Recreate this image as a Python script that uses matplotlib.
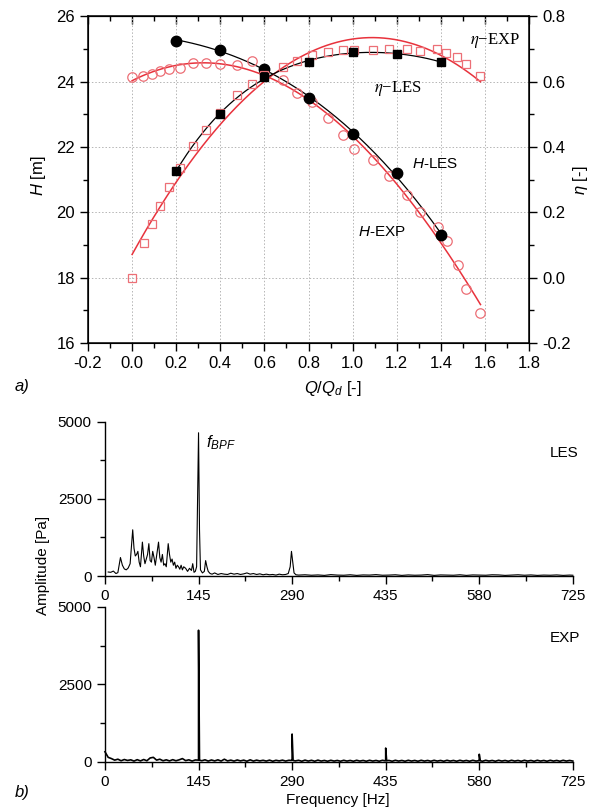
import numpy as np
import matplotlib
matplotlib.use('Agg')
import matplotlib.pyplot as plt
from matplotlib.ticker import MultipleLocator

plt.rcParams['font.family'] = ['Liberation Sans', 'DejaVu Sans']
plt.rcParams['mathtext.fontset'] = 'custom'
plt.rcParams['mathtext.rm'] = 'Liberation Sans'
plt.rcParams['mathtext.it'] = 'Liberation Sans:italic'
plt.rcParams['mathtext.bf'] = 'Liberation Sans:bold'

# ---------------- data: panel a) ----------------
q_les = [0.2, 0.4, 0.6, 0.8, 1.0, 1.2, 1.4]
h_les = [25.25, 24.98, 24.37, 23.51, 22.41, 21.19, 19.32]
eta_les = [0.327, 0.502, 0.613, 0.659, 0.691, 0.684, 0.660]

q_h_exp = [0.0, 0.051, 0.089, 0.127, 0.169, 0.218, 0.278, 0.334, 0.399, 0.475,
           0.546, 0.60, 0.686, 0.747, 0.815, 0.89, 0.958, 1.007, 1.094, 1.166,
           1.246, 1.306, 1.386, 1.427, 1.48, 1.515, 1.578]
h_exp = [24.14, 24.16, 24.24, 24.32, 24.39, 24.42, 24.56, 24.56, 24.54, 24.51,
         24.62, 24.30, 24.04, 23.64, 23.38, 22.87, 22.36, 21.95, 21.60, 21.11,
         20.53, 20.02, 19.56, 19.12, 18.39, 17.65, 16.93]

q_eta_exp = [0.0, 0.054, 0.091, 0.127, 0.169, 0.218, 0.278, 0.334, 0.399, 0.475,
             0.546, 0.60, 0.686, 0.747, 0.815, 0.89, 0.958, 1.007, 1.094, 1.166,
             1.246, 1.306, 1.382, 1.424, 1.473, 1.515, 1.578]
eta_exp = [0.0, 0.105, 0.163, 0.219, 0.278, 0.334, 0.402, 0.453, 0.505, 0.558,
           0.592, 0.620, 0.645, 0.663, 0.681, 0.691, 0.696, 0.696, 0.698, 0.701,
           0.701, 0.694, 0.701, 0.686, 0.674, 0.653, 0.617]

# ---------------- data: panel b) ----------------
les_freq = [5, 9, 13, 17, 20, 24, 27, 30, 33, 36,
            39, 43, 45, 47, 49, 51, 53, 55, 58, 60,
            62, 64, 66, 68, 70, 72, 74, 76, 78, 80,
            83, 85, 87, 89, 91, 93, 95, 98, 100, 102,
            104, 106, 108, 110, 112, 114, 116, 118, 120, 122,
            125, 128, 131, 134, 136, 138, 140, 142, 143.5, 145,
            146.5, 148, 151, 154, 156, 158, 160, 163, 166, 170,
            175, 180, 185, 190, 195, 200, 205, 210, 215, 220,
            225, 230, 235, 240, 245, 250, 255, 260, 265, 270,
            275, 280, 284, 287, 289, 291, 293, 296, 300, 310,
            320, 330, 340, 350, 360, 370, 380, 390, 400, 410,
            420, 430, 440, 450, 460, 470, 480, 490, 500, 510,
            520, 530, 540, 550, 560, 570, 580, 590, 600, 610,
            620, 630, 640, 650, 660, 670, 680, 690, 700, 710,
            720, 725]
les_amp = [130, 120, 160, 80, 110, 600, 350, 230, 200, 260,
           400, 1500, 900, 650, 700, 800, 450, 300, 1100, 650,
           400, 550, 700, 1050, 500, 450, 800, 600, 350, 650,
           1100, 600, 450, 700, 350, 400, 300, 1050, 700, 450,
           550, 350, 450, 250, 350, 300, 220, 350, 200, 300,
           250, 150, 250, 180, 400, 120, 150, 300, 2500, 4650,
           1500, 200, 100, 150, 500, 300, 150, 80, 60, 100,
           50, 80, 60, 50, 90, 60, 80, 50, 70, 100,
           60, 80, 50, 70, 40, 60, 40, 50, 30, 60,
           40, 50, 80, 300, 800, 450, 100, 40, 30, 40,
           25, 35, 20, 45, 30, 25, 40, 20, 35, 30,
           45, 25, 30, 40, 20, 35, 25, 30, 45, 20,
           35, 30, 25, 40, 20, 35, 30, 25, 40, 35,
           20, 30, 40, 25, 35, 20, 30, 25, 35, 20,
           30, 25]

exp_base_freq = list(range(0, 730, 5))
exp_base_amp = [330, 150, 110, 60, 90, 40, 80, 50, 70, 30,
                75, 35, 80, 40, 130, 150, 60, 90, 40, 70,
                35, 75, 40, 70, 110, 45, 70, 30, 65, 60,
                40, 70, 30, 65, 35, 70, 30, 90, 35, 60,
                30, 65, 35, 60, 25, 70, 30, 60, 35, 55,
                30, 60, 25, 55, 35, 60, 30, 55, 60, 35,
                55, 25, 60, 30, 55, 25, 60, 30, 50, 25,
                55, 30, 50, 25, 55, 30, 50, 25, 55, 30,
                50, 25, 55, 30, 50, 25, 55, 40, 50, 25,
                55, 30, 50, 25, 55, 30, 50, 25, 55, 30,
                50, 25, 55, 30, 50, 25, 55, 30, 50, 25,
                55, 30, 50, 25, 55, 30, 50, 25, 55, 30,
                50, 25, 55, 30, 50, 25, 55, 30, 50, 25,
                55, 30, 50, 25, 55, 30, 50, 25, 55, 30,
                50, 25, 55, 30, 50, 30]
exp_spike_freq = [143.5, 145, 146.5, 288.5, 290, 291.5, 433.5, 435, 436.5, 578.5, 580, 581.5]
exp_spike_amp = [60, 4250, 60, 50, 900, 50, 40, 450, 40, 40, 250, 40]

x_ticks_b = [0, 145, 290, 435, 580, 725]

# ---------------- figure ----------------
fig = plt.figure(figsize=(5.93, 8.09), dpi=100)
RED_LINE = '#e8323c'
RED_MK = '#ec6f76'

ax = fig.add_axes([0.1484, 0.576, 0.7437, 0.404])
ax.set_xlim(-0.2, 1.8)
ax.set_ylim(16, 26)
ax.xaxis.set_major_locator(MultipleLocator(0.2))
ax.xaxis.set_minor_locator(MultipleLocator(0.1))
ax.yaxis.set_major_locator(MultipleLocator(2))
ax.yaxis.set_minor_locator(MultipleLocator(1))
ax.grid(which='major', ls=(0, (1.5, 2)), color='#b5b5b5', lw=0.7)
ax.tick_params(which='both', direction='out', labelsize=12, width=1)
ax.tick_params(which='major', length=6)
ax.tick_params(which='minor', length=3.5)
ax.set_xticklabels(['%.1f' % v for v in ax.get_xticks()])
for s in ax.spines.values():
    s.set_linewidth(1.1)

secx = ax.secondary_xaxis('top')
secx.xaxis.set_major_locator(MultipleLocator(0.2))
secx.xaxis.set_minor_locator(MultipleLocator(0.1))
secx.tick_params(which='both', direction='in', labeltop=False, width=1)
secx.tick_params(which='major', length=6)
secx.tick_params(which='minor', length=3.5)

ax2r = ax.twinx()
ax2r.set_ylim(-0.2, 0.8)
ax2r.yaxis.set_major_locator(MultipleLocator(0.2))
ax2r.yaxis.set_minor_locator(MultipleLocator(0.1))
ax2r.tick_params(which='both', direction='out', labelsize=12, width=1)
ax2r.tick_params(which='major', length=6)
ax2r.tick_params(which='minor', length=3.5)
ax2r.set_yticklabels(['%.1f' % v for v in ax2r.get_yticks()])

# fitted curves
qq = np.linspace(0.0, 1.58, 200)
ax.plot(qq, np.polyval(np.polyfit(q_h_exp, h_exp, 3), qq), color=RED_LINE, lw=1.1, zorder=2)
ax2r.plot(qq, np.polyval(np.polyfit(q_eta_exp, eta_exp, 2), qq), color=RED_LINE, lw=1.1, zorder=2)
ql = np.linspace(0.2, 1.4, 200)
ax.plot(ql, np.polyval(np.polyfit(q_les, h_les, 3), ql), color='black', lw=0.9, zorder=3)
ax2r.plot(ql, np.polyval(np.polyfit(q_les, eta_les, 4), ql), color='black', lw=0.9, zorder=3)

# markers
ax.plot(q_h_exp, h_exp, ls='none', marker='o', ms=6.8, mfc='none', mec=RED_MK, mew=0.9, zorder=4)
ax2r.plot(q_eta_exp, eta_exp, ls='none', marker='s', ms=5.8, mfc='none', mec=RED_MK, mew=0.9, zorder=4)
ax.plot(q_les, h_les, ls='none', marker='o', ms=7.5, color='black', zorder=5)
ax2r.plot(q_les, eta_les, ls='none', marker='s', ms=5.5, color='black', zorder=5)

ax.text(1.646, 25.27, r'$\eta$−EXP', ha='center', va='center', fontsize=12,
        family='Liberation Serif', math_fontfamily='stix')
ax.text(1.206, 23.8, r'$\eta$−LES', ha='center', va='center', fontsize=12,
        family='Liberation Serif', math_fontfamily='stix')
ax.text(1.374, 21.47, r'$H$-LES', ha='center', va='center', fontsize=11)
ax.text(1.132, 19.40, r'$H$-EXP', ha='center', va='center', fontsize=11)

fig.text(38 / 593, 1 - 176 / 809, r'$H$ [m]', rotation=90, ha='center', va='center', fontsize=12)
fig.text(580 / 593, 1 - 180 / 809, r'$\eta$ [-]', rotation=90, ha='center', va='center', fontsize=12)
fig.text(333 / 593, 1 - 388 / 809, r'$Q/Q_d$ [-]', ha='center', va='center', fontsize=12)
fig.text(22 / 593, 1 - 387 / 809, 'a)', style='italic', ha='center', va='center', fontsize=12)

# ---------------- panel b) ----------------
def style_spec(a):
    a.set_xlim(0, 725)
    a.set_ylim(0, 5000)
    a.spines['top'].set_visible(False)
    a.spines['right'].set_visible(False)
    a.set_xticks(x_ticks_b)
    a.xaxis.set_minor_locator(MultipleLocator(72.5))
    a.set_yticks([0, 2500, 5000])
    a.yaxis.set_minor_locator(MultipleLocator(1250))
    a.tick_params(which='both', direction='out', labelsize=11, width=1)
    a.tick_params(which='major', length=6)
    a.tick_params(which='minor', length=3.5)
    for s in a.spines.values():
        s.set_linewidth(1.0)

axl = fig.add_axes([0.177, 0.288, 0.789, 0.1904])
style_spec(axl)
axl.plot(les_freq, les_amp, color='black', lw=0.8, clip_on=False)
axl.text(180, 4318, r'$f_{BPF}$', ha='center', va='center', fontsize=12)
axl.text(712, 3994, 'LES', ha='center', va='center', fontsize=11)

exp_f = np.array(exp_base_freq + exp_spike_freq, dtype=float)
exp_a = np.array(exp_base_amp + exp_spike_amp, dtype=float)
order = np.argsort(exp_f, kind='stable')
axe = fig.add_axes([0.177, 0.0581, 0.789, 0.1916])
style_spec(axe)
axe.plot(exp_f[order], exp_a[order], color='black', lw=1.2, clip_on=False)
axe.text(712, 4000, 'EXP', ha='center', va='center', fontsize=11)

fig.text(43 / 593, 1 - 565 / 809, 'Amplitude [Pa]', rotation=90, ha='center', va='center', fontsize=11)
fig.text(338 / 593, 1 - 800 / 809, 'Frequency [Hz]', ha='center', va='center', fontsize=11)
fig.text(22 / 593, 1 - 793 / 809, 'b)', style='italic', ha='center', va='center', fontsize=12)

fig.savefig('out.png', dpi=100)
